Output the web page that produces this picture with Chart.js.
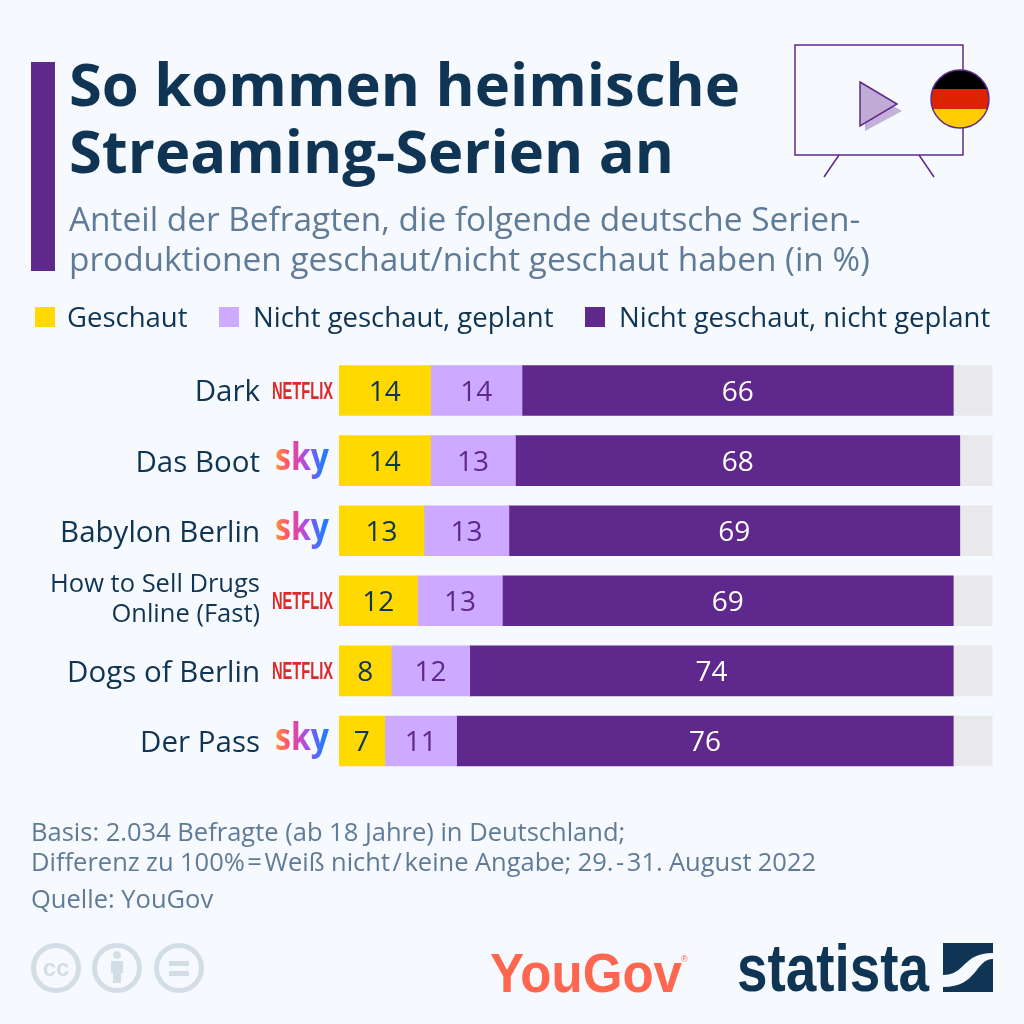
<!DOCTYPE html>
<html>
<head>
<meta charset="utf-8">
<script src="https://cdn.jsdelivr.net/npm/chart.js@4"></script>
<style>
html, body { margin: 0; padding: 0; background: #f6f9fd; }
body { width: 1024px; height: 1024px; position: relative; overflow: hidden; font-family: "Open Sans", sans-serif; }
#myChart { position: absolute; left: 0; top: 0; }
.txt { position: absolute; white-space: nowrap; line-height: 1; }
.title { left: 69px; font-size: 59.7px; font-weight: 700; color: #0f3454; }
.sub { left: 69px; font-size: 33.4px; color: #5f7b97; }
.foot { left: 31px; font-size: 25.5px; color: #5f7b97; }
.leg { font-size: 27.5px; color: #0f3454; top: 303px; }
.box { position: absolute; top: 307px; width: 20px; height: 20px; }
svg { position: absolute; overflow: visible; }
</style>
</head>
<body>
<canvas id="myChart" width="1024" height="1024"></canvas>

<div style="position:absolute;left:31px;top:62px;width:24px;height:209px;background:#5f288d"></div>
<div class="txt title" style="top:53px">So kommen heimische</div>
<div class="txt title" style="top:120px">Streaming-Serien an</div>
<div class="txt sub" style="top:202px">Anteil der Befragten, die folgende deutsche Serien-</div>
<div class="txt sub" style="top:242px">produktionen geschaut/nicht geschaut haben (in %)</div>

<div id="legend"></div>

<div class="txt foot" style="top:819px">Basis: 2.034 Befragte (ab 18 Jahre) in Deutschland;</div>
<div class="txt foot" style="top:849px;word-spacing:-0.3px">Differenz zu 100%&#8202;=&#8202;Weiß nicht&#8202;/&#8202;keine Angabe; 29.&#8202;-&#8202;31. August 2022</div>
<div class="txt foot" style="top:886px">Quelle: YouGov</div>

<!-- tv icon -->
<svg style="left:0;top:0" width="1024" height="1024">
  <rect x="795" y="45" width="168" height="110" fill="none" stroke="#5f288d" stroke-width="1.5"/>
  <line x1="839" y1="155" x2="824" y2="177" stroke="#5f288d" stroke-width="1.5"/>
  <line x1="919" y1="155" x2="934" y2="177" stroke="#5f288d" stroke-width="1.5"/>
  <polygon points="865,90 902,111 865,131" fill="#c4b0d8"/>
  <polygon points="860,82 897,104 860,126" fill="#c0aad6" stroke="#5f288d" stroke-width="1.5"/>
  <clipPath id="flag"><circle cx="960" cy="99" r="29"/></clipPath>
  <g clip-path="url(#flag)">
    <rect x="930" y="70" width="60" height="19" fill="#000"/>
    <rect x="930" y="89" width="60" height="20" fill="#dd2200"/>
    <rect x="930" y="109" width="60" height="19" fill="#ffcc00"/>
  </g>
  <circle cx="960" cy="99" r="29" fill="none" stroke="#5f288d" stroke-width="1.5"/>

  <!-- cc icons -->
  <g fill="none" stroke="#d3dde5" stroke-width="5">
    <circle cx="56" cy="968" r="22.5"/>
    <circle cx="117" cy="968" r="22.5"/>
    <circle cx="179" cy="968" r="22.5"/>
  </g>
  <text x="56" y="976" text-anchor="middle" font-family="Liberation Sans" font-weight="700" font-size="24" fill="#d3dde5">cc</text>
  <circle cx="117" cy="955" r="3.8" fill="#d3dde5"/>
  <polygon points="111,961 123,961 123,973 121,973 121,983 113,983 113,973 111,973" fill="#d3dde5"/>
  <rect x="169" y="961" width="20" height="5" fill="#d3dde5"/>
  <rect x="169" y="971" width="20" height="5" fill="#d3dde5"/>

  <!-- logos -->
  <text x="490" y="992" textLength="192" lengthAdjust="spacingAndGlyphs" font-family="Liberation Sans" font-weight="700" font-size="56" fill="#ff6650">YouGov</text>
  <text x="681" y="962" font-family="Liberation Sans" font-size="9" fill="#ff6650">®</text>
  <text x="737" y="991" textLength="192" lengthAdjust="spacingAndGlyphs" font-family="Liberation Sans" font-weight="700" font-size="67" fill="#0f3454">statista</text>
  <rect x="943" y="943" width="50" height="49" fill="#0f3454"/>
  <path d="M943,975 C966,975 962,953 993,953 L993,959 C975,959 978,987 943,987 Z" fill="#f6f9fd"/>
</svg>

<script>
var categories = ['Dark', 'Das Boot', 'Babylon Berlin', ['How to Sell Drugs', 'Online (Fast)'], 'Dogs of Berlin', 'Der Pass'];
var platforms = ['NETFLIX', 'sky', 'sky', 'NETFLIX', 'NETFLIX', 'sky'];
var seriesNames = ['Geschaut', 'Nicht geschaut, geplant', 'Nicht geschaut, nicht geplant', 'Weiß nicht/keine Angabe'];
var geschaut = [14, 14, 13, 12, 8, 7];
var geplant = [14, 13, 13, 13, 12, 11];
var nichtGeplant = [66, 68, 69, 69, 74, 76];
var keineAngabe = [6, 5, 5, 6, 6, 6];

var colors = ['#ffd900', '#cdaaff', '#5f288d', '#e9e9ec'];
var labelColors = ['#0f3454', '#5f288d', '#ffffff', null];

// legend, only the first three series are in it
var legendX = [35, 219, 585];
var legendHtml = '';
for (var i = 0; i < 3; i++) {
    legendHtml += '<div class="box" style="left:' + legendX[i] + 'px;background:' + colors[i] + '"></div>';
    legendHtml += '<div class="txt leg" style="left:' + (legendX[i] + 32 + (i > 0 ? 2 : 0)) + 'px">' + seriesNames[i] + '</div>';
}
document.getElementById('legend').innerHTML = legendHtml;

// numbers inside the bars
var barValues = {
    id: 'barValues',
    afterDatasetsDraw: function (chart) {
        var ctx = chart.ctx;
        ctx.save();
        ctx.font = '28px "Open Sans"';
        ctx.textAlign = 'center';
        ctx.textBaseline = 'middle';
        chart.data.datasets.forEach(function (ds, d) {
            if (!labelColors[d]) return;
            ctx.fillStyle = labelColors[d];
            chart.getDatasetMeta(d).data.forEach(function (bar, n) {
                var c = bar.getCenterPoint();
                ctx.fillText(ds.data[n], c.x, c.y + 2.5);
            });
        });
        ctx.restore();
    }
};

// netflix / sky marks next to the labels
var platformMarks = {
    id: 'platformMarks',
    afterDraw: function (chart) {
        var ctx = chart.ctx;
        var y = chart.scales.y;
        ctx.save();
        ctx.textBaseline = 'alphabetic';
        ctx.textAlign = 'left';
        platforms.forEach(function (name, n) {
            var py = y.getPixelForValue(n);
            ctx.save();
            if (name === 'NETFLIX') {
                ctx.translate(272, py + 8);
                ctx.font = 'bold 23px "Liberation Sans"';
                ctx.fillStyle = '#dc2a2a';
                ctx.fillText(name, 0, 0, 61);
            } else {
                ctx.translate(275, py + 9);
                var g = ctx.createLinearGradient(0, 0, 54, 0);
                g.addColorStop(0, '#ff9a2e');
                g.addColorStop(0.35, '#f9408a');
                g.addColorStop(0.7, '#a050f0');
                g.addColorStop(1, '#2a78ff');
                ctx.font = 'bold 37px "Open Sans"';
                ctx.fillStyle = g;
                ctx.fillText(name, 0, 0, 54);
            }
            ctx.restore();
        });
        ctx.restore();
    }
};

function makeDataset(index, values) {
    return {
        label: seriesNames[index],
        data: values,
        backgroundColor: colors[index],
        borderWidth: 0,
        barThickness: 50
    };
}

var ctx = document.getElementById('myChart').getContext('2d');
var chart = new Chart(ctx, {
    type: 'bar',
    data: {
        labels: categories,
        datasets: [
            makeDataset(0, geschaut),
            makeDataset(1, geplant),
            makeDataset(2, nichtGeplant),
            makeDataset(3, keineAngabe)
        ]
    },
    plugins: [barValues, platformMarks],
    options: {
        indexAxis: 'y',
        responsive: false,
        animation: false,
        devicePixelRatio: 1,
        layout: { padding: { top: 355.5, bottom: 248, right: 31.5, left: 0 } },
        plugins: { legend: { display: false }, title: { display: false }, tooltip: { enabled: false } },
        scales: {
            x: { stacked: true, min: 0, max: 100, display: false },
            y: {
                stacked: true,
                afterFit: function (scale) {
                    scale.width = 339;
                    // labels sit a little lower than the bar centre, the two line one a little higher
                    if (!scale.tickPixel) {
                        scale.tickPixel = scale.getPixelForTick;
                        scale.getPixelForTick = function (n) {
                            return scale.tickPixel(n) + (n === 3 ? -1 : 2.5);
                        };
                    }
                },
                grid: { display: false, drawTicks: false },
                border: { display: false },
                ticks: {
                    padding: 79,
                    autoSkip: false,
                    color: '#0f3454',
                    font: function (c) {
                        if (c.index === 3) return { family: 'Open Sans', size: 25.5, lineHeight: 1.21 };
                        return { family: 'Open Sans', size: 29.5 };
                    }
                }
            }
        }
    }
});
</script>
</body>
</html>
